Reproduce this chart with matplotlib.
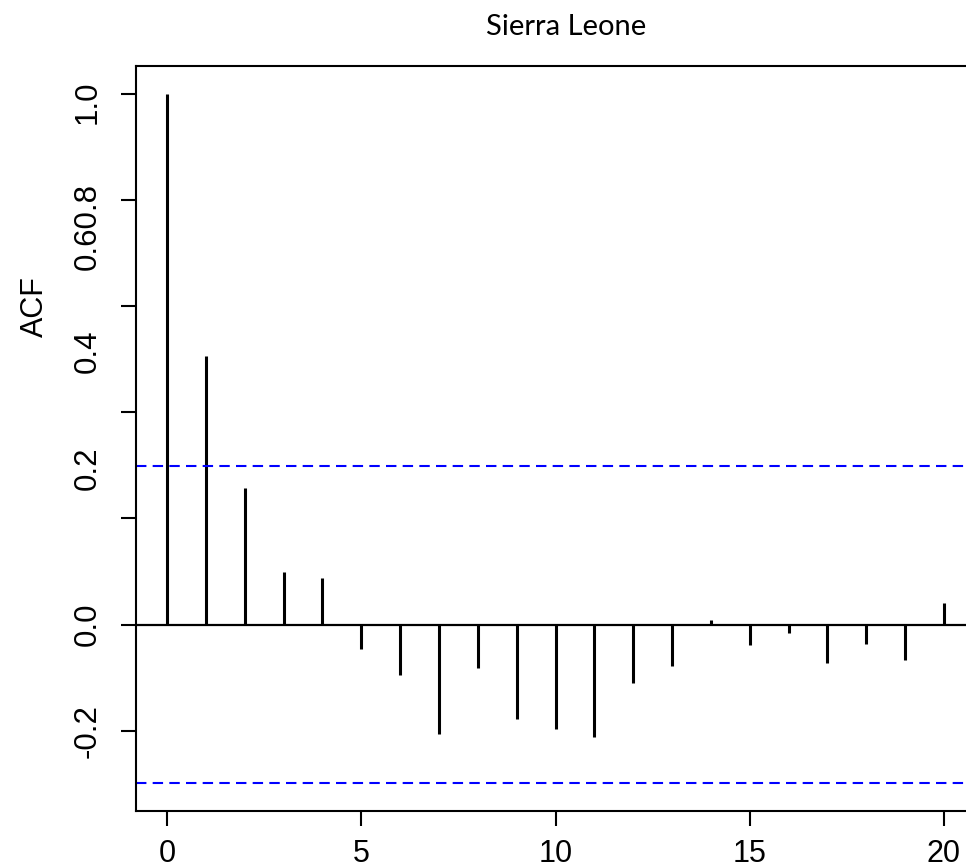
import matplotlib
matplotlib.use("Agg")
import matplotlib.pyplot as plt
import matplotlib.transforms as mtransforms
import numpy as np

# autocorrelation by lag
lags = list(range(0, 21))
acf = [1.0, 0.506, 0.257, 0.100, 0.088, -0.045, -0.094, -0.206, -0.081, -0.178,
       -0.197, -0.212, -0.110, -0.078, 0.009, -0.039, -0.015, -0.073, -0.036,
       -0.066, 0.040]
ci = 0.299
title = "Sierra Leone"
xticks = [0, 5, 10, 15, 20]
yticks = [1.0, 0.8, 0.6, 0.4, 0.2, 0.0, -0.2]
# the y labels sit where the original drew them (some overlap)
ylabel_text = ["1.0", "0.60.8", "0.4", "0.2", "0.0", "-0.2"]
ylabel_pos = [0.983, 0.75, 0.515, 0.295, 0.0, -0.2]

W, H = 966, 867
fig = plt.figure(figsize=(W / 100, H / 100), dpi=100)
ax = fig.add_axes([136 / W, 1 - 811 / H, (975 - 136) / W, (811 - 66) / H])

ax.vlines(lags, 0, acf, color="black", linewidth=2.2)
ax.axhline(0, color="black", linewidth=1.6)
for c in (ci, -ci):
    ax.axhline(c, color="#0000ff", linewidth=1.5, linestyle=(0, (5, 3)))

ax.set_xlim(-0.8, 20.8)
ax.set_ylim(-0.351, 1.052)

for s in ax.spines.values():
    s.set_linewidth(1.5)
    s.set_color("black")

ax.set_xticks(xticks)
ax.set_xticklabels([str(t) for t in xticks], fontsize=22, family="Liberation Sans")
ax.set_yticks(yticks)
ax.set_yticklabels([])
ax.tick_params(axis="both", length=11, width=1.5, color="black")
ax.tick_params(axis="x", pad=9)

trans = mtransforms.blended_transform_factory(ax.transAxes, ax.transData)
for txt, y in zip(ylabel_text, ylabel_pos):
    ax.text(-0.0572, y, txt, transform=trans, rotation=90, ha="center",
            va="center", fontsize=22.5, family="Liberation Sans")

ax.text(-0.1204, 0.6765, "ACF", transform=ax.transAxes, rotation=90,
        ha="center", va="center", fontsize=22, family="Liberation Sans")

fig.text(566 / W, 1 - 35 / H, title, ha="center", va="baseline",
         fontsize=21, family="Lato")

fig.savefig("out.png", dpi=100)
